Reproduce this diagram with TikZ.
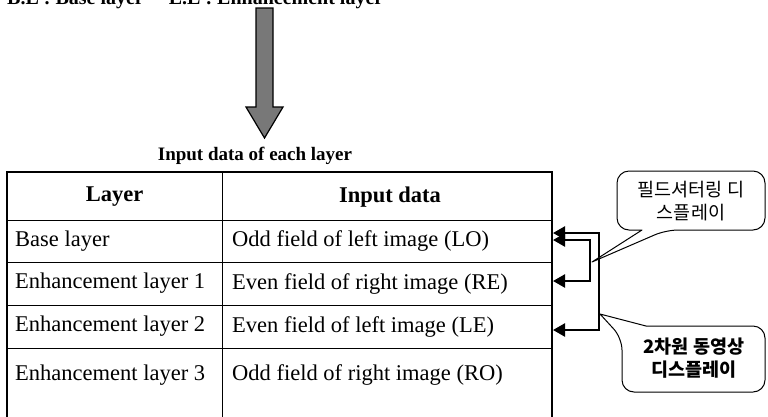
\documentclass[tikz,border=0pt]{standalone}
\usepackage{fontspec}
\setmainfont{Liberation Serif}
\newfontfamily\krfont{Noto Sans CJK KR}
\usetikzlibrary{arrows.meta}

\begin{document}
\begin{tikzpicture}[x=1pt,y=-1pt,
  body/.style={font=\fontsize{22.5}{26}\selectfont, inner sep=0, anchor=west},
  headcell/.style={font=\fontsize{22.5}{26}\selectfont\bfseries, inner sep=0},
  outerrule/.style={line width=2pt},
  innerrule/.style={line width=1pt},
  bracket/.style={line width=2.4pt, {Triangle[length=12pt,width=13pt]}-{Triangle[length=12pt,width=13pt]}},
  bubble/.style={draw=black, line width=1pt, fill=white, line join=round},
  krtext/.style={font=\krfont\fontsize{18.5}{23}\selectfont, align=center, inner sep=0},
  bigarrow/.style={draw=black, line width=1.2pt, fill={rgb,255:red,120;green,120;blue,120}},
]
\clip (0,0) rectangle (768,416);
\fill[white] (0,0) rectangle (768,416);

% legend line, cut by the top edge
\node[anchor=base west, font=\fontsize{20}{24}\selectfont\bfseries, inner sep=0] (legend) at (7,4.5) {B.L : Base layer \quad E.L : Enhancement layer};

% big arrow
\draw[bigarrow] (256,8) -- (273,8) -- (273,107) -- (283,107) -- (264.5,138) -- (246,107) -- (256,107) -- cycle;

% title
\node[font=\fontsize{19}{22}\selectfont\bfseries, inner sep=0] (title) at (255,156) {Input data of each layer};

% table rules
\draw[innerrule] (7,220) -- (552,220);
\draw[innerrule] (7,262) -- (552,262);
\draw[innerrule] (7,305) -- (552,305);
\draw[innerrule] (7,348) -- (552,348);
\draw[innerrule] (222,172) -- (222,420);
\draw[outerrule] (7,420) -- (7,172) -- (552,172) -- (552,420);

% table text
\node[headcell] (hlayer) at (114.5,197) {Layer};
\node[headcell] (hinput) at (390,197) {Input data};
\node[body] (l1) at (15,241) {Base layer};
\node[body] (l2) at (15,283.5) {Enhancement layer 1};
\node[body] (l3) at (15,326.5) {Enhancement layer 2};
\node[body] (l4) at (15,375) {Enhancement layer 3};
\node[body] (d1) at (232,241) {Odd field of left image (LO)};
\node[body] (d2) at (232,283.5) {Even field of right image (RE)};
\node[body] (d3) at (232,326.5) {Even field of left image (LE)};
\node[body] (d4) at (232,375) {Odd field of right image (RO)};

% arrow ends on the table edge
\coordinate (loA) at (553,233);
\coordinate (loB) at (553,240);
\coordinate (re) at (553,281);
\coordinate (le) at (553,330);

% brackets
\draw[bracket] (loA) -- (599,233) -- (599,330) -- (le);
\draw[bracket] (loB) -- (590,240) -- (590,281) -- (re);

% callout 1
\draw[bubble] (642,230) [rounded corners=12] -- (617,230) -- (617,171) -- (765,171) -- (765,230) -- (666,230) [sharp corners] -- (592,262) -- cycle;
\node[krtext] (c1) at (691,201) {필드셔터링 디\\스플레이};

% callout 2
\draw[bubble] (646,326) [rounded corners=12] -- (765,326) -- (765,392) -- (622,392) -- (622,338) [sharp corners] -- (600,314) -- cycle;
\node[krtext, font=\krfont\bfseries\fontsize{18.5}{23}\selectfont] (c2) at (694,358) {2차원 동영상\\디스플레이};
\end{tikzpicture}
\end{document}
